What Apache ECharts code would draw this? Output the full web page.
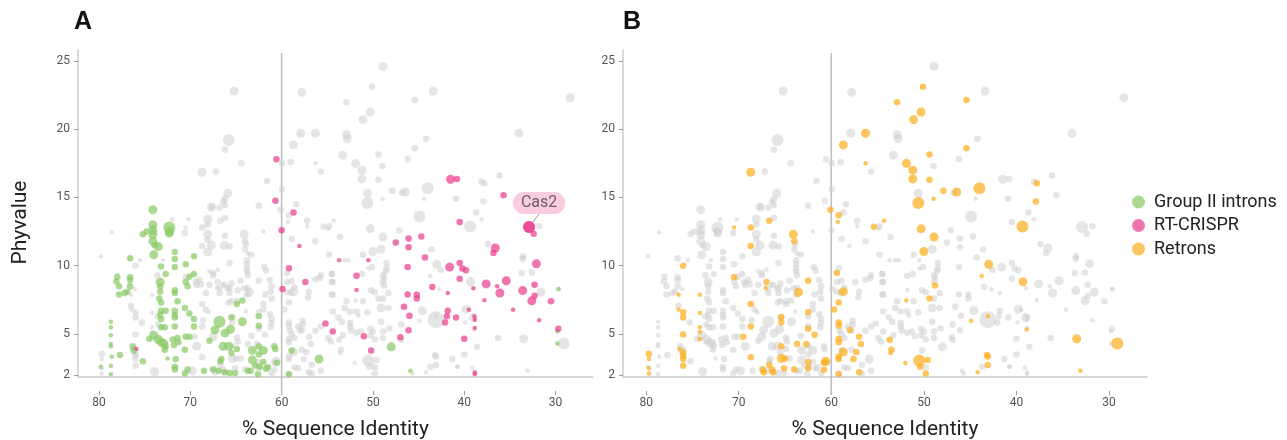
<!DOCTYPE html>
<html>
<head>
<meta charset="utf-8">
<script src="https://cdn.jsdelivr.net/npm/echarts@6/dist/echarts.min.js"></script>
<style>
html,body{margin:0;padding:0;background:#fff;}
#chart{width:1287px;height:440px;}
</style>
</head>
<body>
<div id="chart"></div>
<script>
// ---------------- DATA ----------------
// points: [% sequence identity, phyvalue, size class]
const X_TICKS = [30, 40, 50, 60, 70, 80];
const Y_TICKS = [2, 5, 10, 15, 20, 25];
const REF_LINE_X = [60];
const LEGEND_NAMES = ['Group II introns', 'RT-CRISPR', 'Retrons'];

const groupII = [
[74.1,14.1,3],[74.1,13.0,3],[74.1,12.6,3],[74.1,12.3,3],[75.2,12.3,2],[74.8,12.5,2],[72.3,12.8,4],[72.3,12.5,3],[72.3,12.4,3],[74.1,11.8,3],[73.9,11.5,2],[73.5,11.4,3],[74.0,10.8,3],[76.6,10.55,2],[71.7,11.0,2],[71.7,10.5,2],[71.7,9.9,2],[69.6,10.7,2],[70.5,10.1,2],[73.2,9.94,2],[72.7,9.4,2],[78.0,9.2,2],[78.1,8.85,2],[77.8,8.5,2],[77.8,7.9,2],[76.6,9.16,2],[76.6,8.96,2],[76.6,8.5,2],[76.9,8.1,2],[77.2,8.0,2],[70.1,9.2,2],[69.6,9.4,2],[70.5,8.8,2],[70.3,8.5,2],[73.3,8.8,3],[73.3,8.5,2],[73.3,8.1,2],[73.4,7.6,2],[73.2,7.3,2],[71.7,8.2,2],[71.7,8.0,2],[71.4,7.4,2],[70.6,6.9,2],[70.1,6.5,2],[69.6,6.1,2],[73.2,6.7,2],[72.7,6.7,2],[73.3,6.4,2],[73.2,6.1,2],[73.2,5.5,2],[72.8,5.5,2],[71.7,6.7,2],[71.7,6.4,2],[71.7,6.2,2],[71.7,5.55,2],[69.6,5.55,2],[78.7,5.9,1],[78.7,5.5,1],[78.7,4.9,1],[78.7,4.26,1],[78.7,4.1,1],[78.6,3.33,1],[78.7,2.67,1],[78.7,2.06,1],[79.8,2.6,1],[77.7,3.47,2],[76.3,4.1,2],[76.2,3.8,2],[75.2,3.0,2],[74.5,4.65,2],[74.0,4.9,3],[73.5,4.6,3],[73.2,4.4,3],[72.9,4.3,3],[72.7,4.1,2],[72.8,3.85,2],[72.5,3.2,1],[71.9,4.6,2],[71.4,4.7,2],[71.3,4.4,2],[71.8,4.2,2],[70.5,4.8,2],[70.1,4.8,2],[70.6,3.85,2],[71.6,3.16,2],[71.7,2.6,2],[71.7,2.4,2],[70.6,2.1,2],[70.3,2.4,2],[68.5,2.3,2],[67.9,4.5,2],
[66.8,5.9,4],[67.3,5.3,3],[66.2,5.06,3],[65.6,5.35,3],[65.5,6.2,2],[64.3,5.9,3],[64.9,7.2,2],[64.3,7.45,2],[62.5,6.3,2],[62.5,5.6,2],[66.4,4.1,3],[65.8,4.1,3],[64.9,3.9,2],[65.5,3.6,2],[66.6,3.16,2],[66.7,3.0,2],[63.2,3.8,3],[62.5,4.1,2],[62.0,3.8,3],[62.5,3.5,2],[63.2,3.1,3],[62.9,2.7,2],[62.4,2.6,2],[62.0,2.95,2],[61.7,2.45,2],[61.5,2.57,2],[60.8,4.1,2],[60.7,3.9,2],[60.5,2.9,2],[58.9,3.8,2],[55.9,3.16,3],[59.2,2.06,2],[67.5,2.4,2],[66.9,2.3,2],[66.2,2.2,2],[65.7,2.15,2],[65.1,2.15,2],[63.7,2.3,2],[63.4,2.3,2],[62.6,2.06,2],
[48.0,4.06,3],[45.9,2.3,1],[29.7,8.3,1],[29.8,5.2,1],[29.8,4.3,1]
];

const rtCrispr = [
[60.57,17.8,2],[60.68,14.75,2],[58.7,13.9,2],[60.0,12.6,2],[58.05,11.45,1],[59.2,9.82,2],[57.4,8.8,2],[59.9,8.3,2],[55.2,5.77,2],[54.4,5.18,2],[75.9,3.92,1],
[41.5,16.33,3],[40.8,16.36,2],[40.5,13.2,2],[46.1,12.0,2],[44.7,12.14,2],[47.5,11.7,2],[46.1,11.35,2],[44.3,10.6,2],[53.7,10.4,1],[50.5,10.4,1],[41.6,9.9,3],[40.5,10.2,2],[40.2,9.8,2],[46.2,9.9,2],[40.5,9.04,2],[51.8,9.26,2],[51.8,8.23,1],[43.5,8.45,2],[41.8,8.0,1],[46.2,7.9,2],[45.2,7.87,2],[45.2,7.6,2],[46.6,7.0,2],[46.0,6.33,2],[41.8,6.7,2],[41.9,6.3,2],[42.1,5.84,2],[40.9,6.2,2],[46.1,5.28,2],[47.0,4.77,2],[51.0,4.84,2],[50.2,3.8,2],[40.0,4.65,2],
[35.7,15.16,2],[32.9,12.84,4],[32.4,12.35,2],[36.6,11.3,3],[36.8,10.94,2],[39.8,9.67,2],[32.1,10.14,3],[37.6,8.67,3],[36.4,8.5,1],[35.4,8.9,3],[39.0,8.35,1],[36.1,8.0,3],[33.6,8.18,3],[32.3,8.6,2],[32.3,7.8,2],[32.6,7.43,3],[37.8,7.48,1],[30.5,7.4,2],[34.65,6.77,1],[39.5,6.77,1],[38.9,6.3,1],[38.85,6.04,1],[38.85,5.43,1],[31.8,6.0,1],[29.7,5.38,2],[38.85,2.2,1],[38.85,2.06,1]
];

const retrons = [
[79.7,3.55,2],[79.7,3.16,1],[79.7,2.5,1],[79.7,2.1,1],[76.5,7.87,1],[76.5,6.8,1],[76.0,6.6,2],[76.0,6.2,2],[76.0,10.0,2],[76.0,4.97,2],[76.4,3.9,1],[76.0,3.65,2],[76.0,3.4,2],[76.0,3.16,2],[76.0,2.68,2],[74.2,7.87,1],[74.2,6.53,1],[74.2,5.5,1],[74.2,5.14,1],[74.2,4.63,1],[70.5,12.8,1],[70.5,9.16,2],[69.5,4.8,2],[68.7,12.8,2],[68.7,11.45,2],[68.7,7.2,2],[68.7,5.55,2],[68.7,3.3,2],[68.7,16.85,3],[67.4,2.4,2],[67.3,2.2,2],[66.7,2.75,2],[66.4,2.4,2],[66.3,2.2,2],[67.0,8.8,2],[67.1,8.36,1],[66.7,13.3,2],[65.4,6.24,2],[65.4,5.85,2],[65.4,4.1,2],[65.4,3.2,3],[65.0,3.2,2],[65.1,2.5,2],[64.1,12.3,3],[64.0,11.8,2],[64.0,2.4,2],[63.7,4.26,2],[62.7,4.26,2],[63.55,8.04,3],[62.5,8.9,2],[62.5,6.6,2],[62.5,5.38,2],[62.5,2.94,2],[62.5,2.5,2],[61.8,4.95,2],[60.8,2.9,2],[60.6,3.0,3],[60.8,2.38,2],[60.1,14.1,2],[59.7,6.8,2],[59.3,13.2,1],[59.2,13.7,2],[59.4,9.46,2],[58.7,18.85,3],[59.2,7.3,2],[59.2,5.85,2],[59.2,5.6,2],[59.2,4.63,2],[59.2,4.4,2],[59.2,3.36,2],[59.2,3.16,2],[58.7,8.1,3],[58.7,3.68,3],[59.2,2.07,2],[58.0,5.3,2],[57.6,3.16,2],[57.3,3.68,2],[57.0,4.8,2],[57.0,2.2,2],
[56.8,4.26,2],[56.3,19.7,3],[56.3,17.5,1],[55.4,12.85,2],[54.3,13.3,1],[53.7,4.58,2],[53.5,3.85,2],[53.6,3.6,1],[52.9,21.97,2],[52.0,2.87,1],[51.9,7.45,1],[51.9,17.5,3],[51.2,17.0,3],[51.2,16.36,3],[51.1,20.7,3],[50.6,14.6,4],[50.5,3.06,4],[50.4,2.6,2],[49.6,3.1,2],[49.8,2.1,2],[50.3,12.7,3],[50.3,21.26,3],[50.1,23.1,2],[50.0,11.04,3],[49.4,18.14,2],[49.4,16.3,2],[48.95,14.9,1],[48.9,12.1,3],[48.8,8.55,2],[49.4,7.6,2],[47.9,15.5,2],[46.45,15.4,3],[45.4,22.14,2],[45.4,18.6,2],[44.9,5.97,1],[44.0,15.68,4],[43.75,9.24,1],[43.1,6.3,1],[43.2,3.46,2],[43.1,3.36,2],[43.1,2.73,2],[44.2,2.2,1],[43.0,10.1,3],[39.35,12.87,4],[39.3,8.82,3],[38.9,5.33,1],[37.9,14.7,2],[37.8,16.04,2],[33.5,4.65,3],[33.1,2.3,1],[29.1,4.31,4]
];

const otherFamilies = [
[67.7,14.3,3],[68.1,13.4,3],[68.1,13.0,2],[68.1,12.3,3],[67.7,11.5,3],[68.1,11.0,3],[68.1,11.9,2],[72.0,13.4,1],[70.2,13.4,1],[70.6,12.4,2],[78.6,12.45,1],[79.8,10.7,1],[75.5,10.4,1],[73.0,10.4,1],[73.6,9.3,2],[69.4,8.8,2],[68.8,8.65,2],[68.3,8.0,2],[67.9,9.6,1],[69.0,8.97,2],[69.3,8.6,2],[76.1,8.3,1],[76.5,7.06,2],[75.3,5.85,2],[73.6,6.3,2],[73.5,5.7,2],[68.3,6.8,2],[68.6,6.0,2],[69.3,4.1,3],[73.9,2.25,3],[69.8,2.3,3],[67.5,9.46,2],[67.0,9.7,1],[67.9,8.6,2],[66.8,8.36,2],[66.8,8.0,2],[66.4,8.6,1],[65.7,8.36,2],[65.7,8.0,2],[64.8,8.2,2],[64.85,7.4,2],[63.7,8.36,2],
[65.2,22.8,3],[57.8,22.7,3],[65.8,19.2,4],[66.2,18.5,2],[64.4,17.5,2],[57.9,19.7,3],[59.0,17.6,2],[59.95,17.5,2],[55.7,16.9,2],[67.2,16.9,2],[61.6,16.2,2],[59.95,15.6,2],[65.9,15.3,3],[66.2,14.9,2],[66.4,14.7,2],[66.2,14.45,2],[66.8,14.26,2],[67.6,14.3,2],[62.5,14.4,2],[66.2,13.5,2],[57.2,13.3,2],[57.2,12.9,1],[58.4,14.5,2],[54.8,12.9,2],[54.9,12.7,1],[62.0,12.5,1],[63.9,11.6,2],[64.0,11.2,2],[63.7,10.9,1],[66.2,12.2,2],[66.3,11.5,3],[65.7,11.4,2],[63.3,10.8,2],[58.9,11.96,2],[56.3,11.8,2],[54.8,10.8,2],[65.7,10.2,2],[63.8,10.4,2],[63.8,10.1,2],[63.8,9.8,2],[63.8,9.6,2],[63.7,9.3,2],[61.9,9.9,2],[61.7,9.65,2],[67.5,9.3,2],[55.7,9.3,2],[55.8,9.1,2],[56.3,9.0,2],[54.5,9.4,2],[54.5,8.8,2],[66.3,8.6,2],[65.9,8.35,2],[65.5,8.7,2],[64.5,8.9,2],[64.1,8.35,2],[63.8,7.9,2],[61.3,8.95,2],[61.1,8.5,2],[61.2,8.1,2],[61.1,7.6,2],[59.4,8.8,2],[58.9,8.9,2],[58.6,8.4,2],[59.4,8.1,2],[59.0,8.0,2],[57.0,8.1,2],[57.1,7.7,2],[54.5,7.9,2],[65.8,7.3,2],[65.5,7.4,2],[61.8,7.9,2],[62.0,7.2,2],[62.0,6.8,2],[63.9,6.65,1],[68.0,6.6,1],[61.3,6.45,2],[61.1,6.1,2],[61.1,5.8,2],[61.2,5.5,2],[57.7,5.97,2],[57.7,5.7,2],[58.2,5.55,2],[59.1,5.25,2],[58.9,5.0,2],[58.6,4.7,2],[57.8,5.25,2],[56.3,5.23,2],[55.7,5.55,2],[64.9,4.75,2],[64.8,4.45,2],[67.5,4.8,3],[63.3,4.87,2],[54.9,4.7,2],[54.6,4.45,2],[57.8,3.85,2],[58.6,2.55,2],[56.7,2.75,2],[55.7,2.3,2],[64.5,3.2,2],[61.1,2.14,2],[56.7,2.1,2],[58.2,2.5,2],
[48.9,24.6,3],[43.4,22.8,3],[52.9,19.6,3],[52.8,19.3,3],[44.2,19.3,2],[53.3,18.1,3],[46.2,17.8,2],[48.96,17.3,2],[46.8,15.35,2],[44.4,14.9,1],[50.6,15.3,3],[40.9,14.9,2],[44.9,13.6,4],[47.1,12.6,2],[53.6,12.1,2],[49.1,11.2,3],[51.1,10.8,2],[53.1,10.4,1],[52.7,10.4,1],[48.5,10.2,2],[48.5,9.8,2],[48.6,9.6,2],[48.9,9.3,2],[48.8,9.1,2],[48.9,8.8,2],[48.3,8.0,2],[50.1,9.9,2],[50.5,9.8,1],[42.7,8.28,1],[54.5,9.4,2],[54.4,8.8,2],[54.4,7.9,2],[51.2,9.4,2],[50.2,8.2,2],[49.8,8.06,2],[48.9,7.6,2],[49.1,6.9,3],[48.3,6.9,2],[51.1,7.4,2],[52.9,7.4,2],[53.1,6.9,2],[52.5,6.65,2],[54.4,6.65,2],[53.8,6.2,2],[53.4,5.87,2],[52.5,5.8,2],[51.8,6.65,2],[51.6,6.35,1],[50.6,6.6,2],[52.5,5.55,2],[52.4,5.26,2],[51.8,5.1,2],[51.3,5.18,2],[50.3,5.38,2],[50.0,5.18,2],[50.3,4.9,2],[49.1,5.9,2],[48.9,5.18,2],[48.9,4.7,2],[49.8,4.6,2],[48.2,5.4,2],[46.9,5.7,2],[44.6,6.7,3],[43.1,6.04,5],[53.3,4.9,2],[43.7,2.6,2],[45.7,2.1,1],[41.3,3.16,2],[40.8,2.6,1],[46.9,4.57,2],[42.6,9.7,2],[43.6,11.2,2],[40.0,3.5,2],[49.8,2.57,2],
[28.4,22.3,3],[34.0,19.7,3],[36.15,16.6,2],[38.1,16.16,2],[38.7,13.9,2],[38.1,13.4,1],[31.8,12.9,2],[37.4,11.6,2],[33.6,10.7,2],[33.6,10.5,2],[32.6,9.5,2],[33.45,10.6,1],[33.7,9.46,2],[31.6,8.06,3],[29.6,8.3,1],[39.8,6.8,3],[39.0,6.2,3],[39.9,5.85,1],[36.3,4.7,2],[38.6,4.06,2],[40.7,2.6,1],[39.1,2.55,1]
];

const annotations = [{ name: 'Cas2', value: [32.9, 12.84, 4] }];

// ---------------- STYLE ----------------
const SIZE = {1: 4.5, 2: 6.5, 3: 9, 4: 12, 5: 17};
const symSize = v => SIZE[v[2]];
const C_GREY = '#cfcfcf', C_GREEN = '#8ccb68', C_PINK = '#ea3f8f', C_ORANGE = '#fcae1e';
const FONT = 'Roboto, "Noto Sans", sans-serif';
const X_RANGE = [{min: 25.9, max: 82.3}, {min: 25.9, max: 82.5}];
const Y_RANGE = {min: 1.85, max: 25.8};

const chart = echarts.init(document.getElementById('chart'), null, {renderer: 'canvas'});

const gridBase = {containLabel: false, outerBoundsMode: 'none'};
const grids = [
  Object.assign({left: 78, top: 50, width: 515, height: 327}, gridBase),
  Object.assign({left: 623, top: 50, width: 524, height: 327}, gridBase),
  Object.assign({left: 78, top: 53, width: 515, height: 342}, gridBase),
  Object.assign({left: 623, top: 53, width: 524, height: 342}, gridBase)
];

function lineAxis(gi, r) {
  return {gridIndex: gi, type: 'value', position: 'bottom', inverse: true, min: r.min, max: r.max,
    axisLine: {show: true, onZero: false, lineStyle: {color: '#cccccc', width: 1.5}},
    axisTick: {show: false}, axisLabel: {show: false}, splitLine: {show: false}};
}
function tickAxis(gi, r) {
  return {gridIndex: gi, type: 'value', position: 'bottom', inverse: true, min: r.min, max: r.max, offset: 14,
    axisLine: {show: false, onZero: false},
    axisTick: {show: true, customValues: X_TICKS, length: 4, lineStyle: {color: '#999', width: 1}},
    axisLabel: {show: true, customValues: X_TICKS, margin: 6, fontSize: 12, color: '#555', fontFamily: FONT},
    splitLine: {show: false},
    name: '% Sequence Identity', nameLocation: 'middle', nameGap: 28,
    nameTextStyle: {fontSize: 21, color: '#222', fontFamily: FONT}};
}
function refXAxis(gi, r) {
  return {gridIndex: gi, type: 'value', position: 'bottom', inverse: true, min: r.min, max: r.max, show: false};
}
function yAx(gi, named) {
  const a = {gridIndex: gi, type: 'value', position: 'left', min: Y_RANGE.min, max: Y_RANGE.max,
    axisLine: {show: true, onZero: false, lineStyle: {color: '#cccccc', width: 1.5}},
    axisTick: {show: true, customValues: Y_TICKS, length: 4, lineStyle: {color: '#999'}},
    axisLabel: {show: true, customValues: Y_TICKS, margin: 8, fontSize: 12, color: '#555', fontFamily: FONT},
    splitLine: {show: false}};
  if (named) {
    a.name = 'Phyvalue'; a.nameLocation = 'middle'; a.nameGap = 47; a.nameRotate = 90;
    a.nameTextStyle = {fontSize: 21, color: '#222', fontFamily: FONT, padding: [0, 18, 0, 0]};
  }
  return a;
}

function scatter(name, data, color, xi, yi, opacity, z) {
  return {type: 'scatter', name: name, data: data, xAxisIndex: xi, yAxisIndex: yi,
    symbolSize: symSize, z: z,
    itemStyle: {color: color, opacity: opacity}, emphasis: {disabled: true}, silent: true};
}

const refData = REF_LINE_X.map(x => [[x, 0], [x, 1]]);
const refSeries = [];
[4, 5].forEach((xi, k) => {
  refData.forEach(pair => {
    refSeries.push({type: 'line', data: pair, xAxisIndex: xi, yAxisIndex: 2 + k, symbol: 'none',
      lineStyle: {color: '#bdbdbd', width: 1.5}, silent: true, z: 1});
  });
});

const option = {
  animation: false,
  textStyle: {fontFamily: FONT},
  title: [
    {text: 'A', left: 69, top: 5, textStyle: {fontSize: 25, fontWeight: 'bold', color: '#111', fontFamily: 'Liberation Sans, Arial, sans-serif'}},
    {text: 'B', left: 618, top: 5, textStyle: {fontSize: 25, fontWeight: 'bold', color: '#111', fontFamily: 'Liberation Sans, Arial, sans-serif'}}
  ],
  legend: {
    data: LEGEND_NAMES, orient: 'vertical', left: 1127, top: 188, itemGap: 5.5,
    icon: 'circle', itemWidth: 13, itemHeight: 13,
    textStyle: {fontSize: 18, color: '#222', fontFamily: FONT, padding: [0, 0, 0, 4]},
    selectedMode: false
  },
  grid: grids,
  xAxis: [lineAxis(0, X_RANGE[0]), tickAxis(0, X_RANGE[0]), lineAxis(1, X_RANGE[1]), tickAxis(1, X_RANGE[1]),
          refXAxis(2, X_RANGE[0]), refXAxis(3, X_RANGE[1])],
  yAxis: [yAx(0, true), yAx(1, false),
          {gridIndex: 2, type: 'value', min: 0, max: 1, show: false},
          {gridIndex: 3, type: 'value', min: 0, max: 1, show: false}],
  series: [
    ...refSeries,
    scatter('other A', otherFamilies.concat(retrons), C_GREY, 0, 0, 0.55, 2),
    scatter('Group II introns', groupII, C_GREEN, 0, 0, 0.72, 3),
    scatter('RT-CRISPR', rtCrispr, C_PINK, 0, 0, 0.72, 4),
    {type: 'scatter', name: 'label', data: annotations, xAxisIndex: 0, yAxisIndex: 0, z: 5,
      symbolSize: symSize, itemStyle: {color: C_PINK, opacity: 0.72}, silent: true,
      label: {show: true, formatter: '{b}', position: 'inside', fontSize: 16, color: '#333', fontFamily: FONT,
        backgroundColor: '#f7b9d7', borderRadius: 11, padding: [3, 8]},
      labelLayout: {dx: 10, dy: -24},
      labelLine: {show: true, lineStyle: {color: '#999', width: 1}}},
    scatter('other B', otherFamilies.concat(groupII, rtCrispr), C_GREY, 2, 1, 0.55, 2),
    scatter('Retrons', retrons, C_ORANGE, 2, 1, 0.72, 3)
  ]
};
chart.setOption(option);
</script>
</body>
</html>
